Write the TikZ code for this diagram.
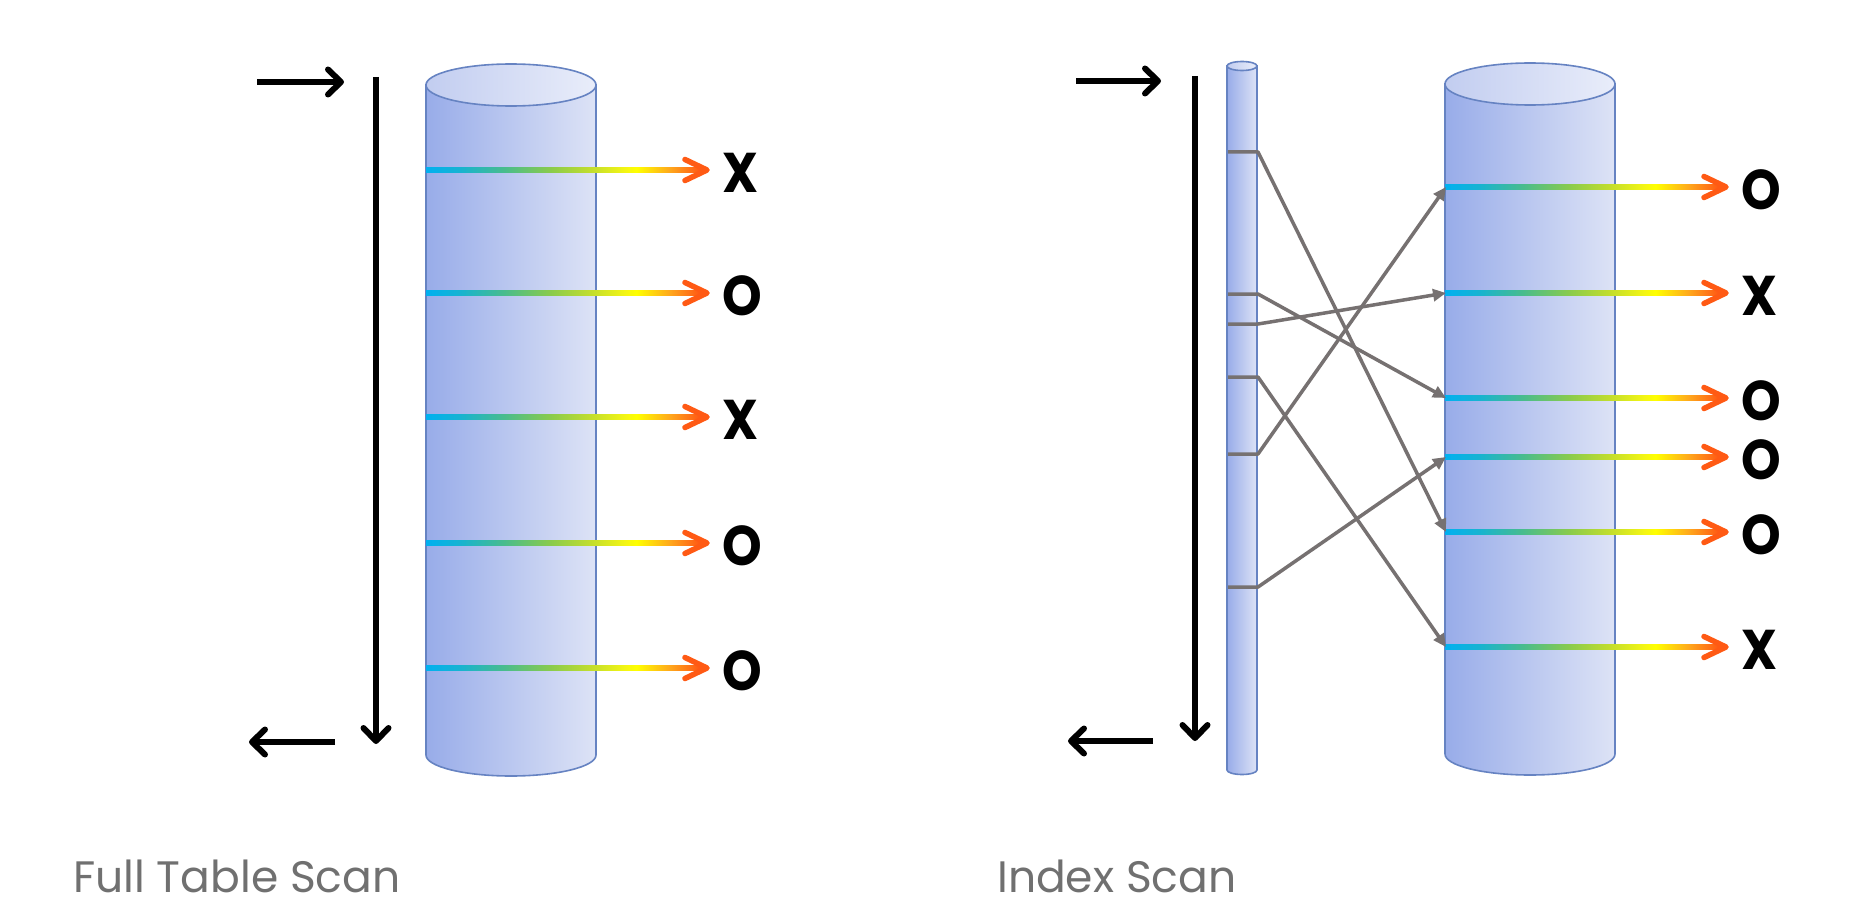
\documentclass[tikz,border=0pt]{standalone}
\usepackage{fontspec}
\setmainfont{Poppins}
\usetikzlibrary{arrows.meta}
\definecolor{cylL}{HTML}{98ACE9}
\definecolor{cylR}{HTML}{DDE3F6}
\definecolor{topL}{HTML}{C2CDF0}
\definecolor{topR}{HTML}{E9EDFA}
\definecolor{cylEdge}{HTML}{6683C2}
\definecolor{ptrGray}{HTML}{767171}
\definecolor{lblGray}{HTML}{707070}
\definecolor{headOrange}{HTML}{FF5A14}
\definecolor{g0}{HTML}{00B0F0}
\definecolor{g1}{HTML}{16B3D2}
\definecolor{g2}{HTML}{48BC8E}
\definecolor{g3}{HTML}{8ACB4C}
\definecolor{g4}{HTML}{C4DE2C}
\definecolor{g5}{HTML}{F4F614}
\definecolor{g6}{HTML}{FFFF00}
\definecolor{g7}{HTML}{FFA81C}
\definecolor{g8}{HTML}{FF5014}
\pgfdeclarehorizontalshading{rowgrad}{100bp}{color(0bp)=(g0); color(25bp)=(g0); color(31bp)=(g1); color(39bp)=(g2); color(47.5bp)=(g3); color(55bp)=(g4); color(61bp)=(g5); color(63bp)=(g6); color(69bp)=(g7); color(75bp)=(g8); color(100bp)=(g8)}
\tikzset{
  cylbody/.style={left color=cylL, right color=cylR, draw=cylEdge, line width=1.6pt},
  cyltop/.style={left color=topL, right color=topR, draw=cylEdge, line width=1.6pt},
  rowhead/.style={draw=headOrange, line width=5.5pt, line cap=round, line join=round},
  flow/.style={draw=black, line width=6pt, -{Straight Barb[length=13pt,width=25pt,round]}},
  ptr/.style={draw=ptrGray, line width=3.5pt, line join=round, -{Triangle[length=13pt,width=12pt]}},
  verdict/.style={font=\fontsize{56}{60}\selectfont\bfseries, inner sep=0pt, anchor=west, xscale=0.9},
  caption/.style={font=\fontsize{44}{50}\selectfont, text=lblGray, inner sep=0pt, anchor=base west}
}
\newcommand\myrow[2]{%
  \path[shading=rowgrad] ({#1},{#2-2.75}) rectangle ({#1+277},{#2+2.75});
  \draw[rowhead] ({#1+259},{#2-10.5}) -- ({#1+281},{#2}) -- ({#1+259},{#2+10.5});
}
\begin{document}
\begin{tikzpicture}[x=1pt,y=-1pt]
\useasboundingbox[fill=white] (0,0) rectangle (1851,920);
% ---------- Full table scan ----------
\path[cylbody] (426,85) -- (426,755) arc[start angle=180,end angle=360,x radius=85pt,y radius=21pt] -- (596,85) -- cycle;
\path[cyltop] (511,85) ellipse [x radius=85pt, y radius=21pt];
\myrow{426}{170}
\myrow{426}{293}
\myrow{426}{417}
\myrow{426}{543}
\myrow{426}{668}
\node[verdict] (l1) at (722,173) {X};
\node[verdict] (l2) at (722,296) {O};
\node[verdict] (l3) at (722,420) {X};
\node[verdict] (l4) at (722,546) {O};
\node[verdict] (l5) at (722,671) {O};
\coordinate (fa1) at (257,82);  \coordinate (fa2) at (344,82);
\coordinate (fv1) at (376,77);  \coordinate (fv2) at (376,744);
\coordinate (fb1) at (335,742); \coordinate (fb2) at (249,742);
\draw[flow] (fa1) -- (fa2);
\draw[flow] (fv1) -- (fv2);
\draw[flow] (fb1) -- (fb2);
\node[caption] (capL) at (73,892) {Full Table Scan};
% ---------- Index scan ----------
\path[cylbody] (1227,66) -- (1227,770) arc[start angle=180,end angle=360,x radius=15pt,y radius=4.5pt] -- (1257,66) -- cycle;
\path[cyltop] (1242,66) ellipse [x radius=15pt, y radius=4.5pt];
\path[cylbody] (1445,84) -- (1445,754) arc[start angle=180,end angle=360,x radius=85pt,y radius=21pt] -- (1615,84) -- cycle;
\path[cyltop] (1530,84) ellipse [x radius=85pt, y radius=21pt];
\myrow{1445}{187}
\myrow{1445}{293}
\myrow{1445}{398}
\myrow{1445}{457}
\myrow{1445}{532}
\myrow{1445}{647}
\node[verdict] (r1l) at (1741,190) {O};
\node[verdict] (r2l) at (1741,296) {X};
\node[verdict] (r3l) at (1741,401) {O};
\node[verdict] (r4l) at (1741,460) {O};
\node[verdict] (r5l) at (1741,535) {O};
\node[verdict] (r6l) at (1741,650) {X};
\coordinate (t1) at (1446,187);
\coordinate (t2) at (1446,293);
\coordinate (t3) at (1446,398);
\coordinate (t4) at (1446,457);
\coordinate (t5) at (1446,532);
\coordinate (t6) at (1446,647);
\coordinate (i1) at (1228,152);
\coordinate (i2) at (1228,294);
\coordinate (i3) at (1228,324);
\coordinate (i4) at (1228,377);
\coordinate (i5) at (1228,454);
\coordinate (i6) at (1228,587);
\draw[ptr] (i1) -- ++(30,0) -- (t5);
\draw[ptr] (i2) -- ++(30,0) -- (t3);
\draw[ptr] (i3) -- ++(30,0) -- (t2);
\draw[ptr] (i4) -- ++(30,0) -- (t6);
\draw[ptr] (i5) -- ++(30,0) -- (t1);
\draw[ptr] (i6) -- ++(30,0) -- (t4);
\coordinate (ia1) at (1076,81);  \coordinate (ia2) at (1161,81);
\coordinate (iv1) at (1195,76);  \coordinate (iv2) at (1195,741);
\coordinate (ib1) at (1153,741); \coordinate (ib2) at (1068,741);
\draw[flow] (ia1) -- (ia2);
\draw[flow] (iv1) -- (iv2);
\draw[flow] (ib1) -- (ib2);
\node[caption] (capR) at (997,892) {Index Scan};
\end{tikzpicture}
\end{document}
